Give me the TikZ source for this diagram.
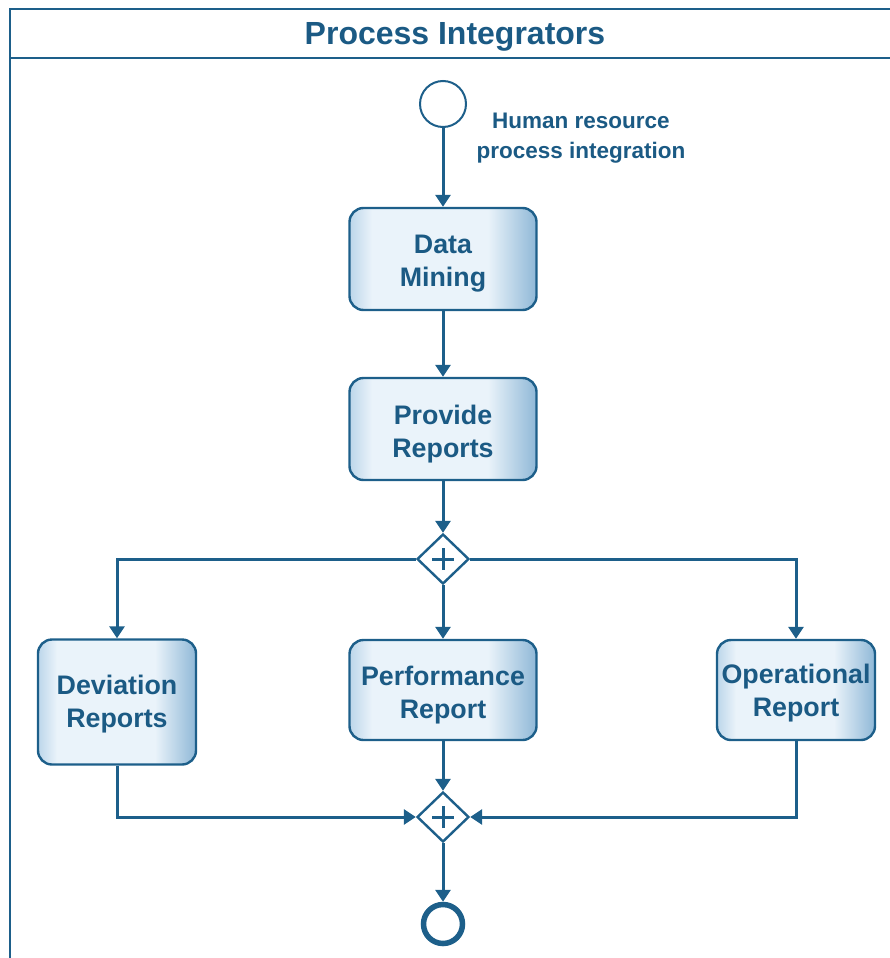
\documentclass[tikz,border=0pt]{standalone}
\usepackage{fontspec}
\setmainfont{Liberation Sans}
\usetikzlibrary{arrows.meta,shapes.geometric}
\definecolor{bpmnline}{HTML}{1D5F8A}
\definecolor{bpmntext}{HTML}{1B5A84}
\definecolor{taskedgeL}{HTML}{BCD6EA}
\definecolor{taskedgeR}{HTML}{8FB8D7}
\definecolor{taskmid}{HTML}{EAF3FA}
% light body with a blue rim at the left and right sides
\pgfdeclarehorizontalshading{taskshade}{100bp}{%
  color(0bp)=(taskedgeL); color(25bp)=(taskedgeL); color(31bp)=(taskmid);
  color(62bp)=(taskmid); color(75bp)=(taskedgeR); color(100bp)=(taskedgeR)}
% two centred lines, lowered a little inside the task box
\newcommand\tasklines[2][4pt]{\raisebox{-#1}[\height][\depth]{\begin{tabular}{@{}c@{}}#2\end{tabular}}}
\tikzset{
  flow/.style={draw=bpmnline, line width=3pt, -{Triangle[width=15pt,length=12pt]}},
  task/.style={draw=bpmnline, line width=2.4pt, rounded corners=14pt,
    shading=taskshade, text=bpmntext, font=\bfseries\fontsize{26.8}{33}\selectfont,
    inner sep=0pt},
  gateway/.style={diamond, draw=bpmnline, line width=2.4pt, fill=white,
    minimum width=52pt, minimum height=50pt, inner sep=0pt},
  plus/.style={draw=bpmnline, line width=3pt},
  pool/.style={draw=bpmnline, line width=2.5pt},
}
\begin{document}
\begin{tikzpicture}[x=1pt, y=-1pt]
\useasboundingbox (0,0) rectangle (889,958);

% pool with header
\draw[pool] (10,962) -- (10,9) -- (892,9);
\draw[pool] (10,58) -- (892,58);
\node[text=bpmntext, font=\bfseries\fontsize{32}{36}\selectfont] (title) at (455,37) {Process Integrators};

% start event
\node[circle, draw=bpmnline, line width=2pt, fill=white, minimum size=46pt, inner sep=0pt] (start) at (443,104) {};
\node[text=bpmntext, font=\bfseries\fontsize{22.5}{30}\selectfont, align=center] (startlabel) at (581,138) {Human resource\\process integration};

% tasks
\node[task, minimum width=187pt, minimum height=102pt] (mining) at (443,259) {\tasklines{Data\\Mining}};
\node[task, minimum width=187pt, minimum height=102pt] (reports) at (443,429) {\tasklines[5pt]{Provide\\Reports}};
\node[task, minimum width=158pt, minimum height=125pt] (deviation) at (117,702) {\tasklines[2pt]{Deviation\\Reports}};
\node[task, minimum width=187pt, minimum height=100pt] (performance) at (443,690) {\tasklines[5pt]{Performance\\Report}};
\node[task, minimum width=158pt, minimum height=100pt] (operational) at (796,690) {\tasklines[3pt]{Operational\\Report}};

% parallel gateways
\node[gateway] (split) at (443,559) {};
\node[gateway] (join) at (443,817) {};
\foreach \g in {split,join}{
  \draw[plus] ([xshift=-11pt]\g.center) -- ([xshift=11pt]\g.center);
  \draw[plus] ([yshift=-11pt]\g.center) -- ([yshift=11pt]\g.center);
}

% end event
\node[circle, draw=bpmnline, line width=5.5pt, fill=white, minimum size=39pt, inner sep=0pt] (end) at (443,924) {};

% sequence flows
\draw[flow] (start) -- (mining);
\draw[flow] (mining) -- (reports);
\draw[flow] (reports) -- (split);
\draw[flow] (split.west) -| (deviation.north);
\draw[flow] (split.east) -| (operational.north);
\draw[flow] (split) -- (performance);
\draw[flow] (deviation.south) |- (join.west);
\draw[flow] (operational.south) |- (join.east);
\draw[flow] (performance) -- (join);
\draw[flow] (join) -- (end);
\end{tikzpicture}
\end{document}
